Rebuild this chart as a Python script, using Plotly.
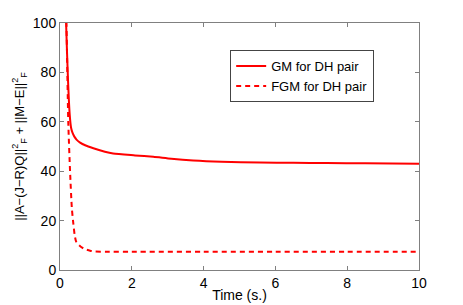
import plotly.graph_objects as go

# GM for DH pair (solid)
gm_t = [0.15, 0.17, 0.22, 0.27, 0.31, 0.35, 0.40, 0.46, 0.56, 0.70, 0.93, 1.25, 1.48, 2.09, 2.6, 3.1, 3.71, 4.5, 5.57, 6.5, 7.43, 8.5, 10.0]
gm_v = [115, 100, 78, 63, 57.5, 55.5, 54.0, 52.8, 51.6, 50.5, 49.3, 47.9, 47.2, 46.4, 45.8, 45.0, 44.3, 43.8, 43.5, 43.4, 43.3, 43.2, 43.0]

# FGM for DH pair (dashed)
fgm_t = [0.15, 0.18, 0.23, 0.28, 0.33, 0.37, 0.41, 0.45, 0.52, 0.60, 0.72, 0.84, 0.97, 1.3, 2.0, 4.0, 6.0, 8.0, 10.0]
fgm_v = [115, 100, 60, 40, 25, 19, 14, 11.5, 10.2, 9.2, 8.3, 7.8, 7.5, 7.4, 7.4, 7.4, 7.4, 7.4, 7.4]

x_ticks = [0, 2, 4, 6, 8, 10]
y_ticks = [0, 20, 40, 60, 80, 100]

fig = go.Figure()
fig.add_trace(go.Scatter(x=gm_t, y=gm_v, mode="lines", name="GM for DH pair",
                         line=dict(color="#ff0000", width=2, shape="spline", smoothing=0.6)))
fig.add_trace(go.Scatter(x=fgm_t, y=fgm_v, mode="lines", name="FGM for DH pair",
                         line=dict(color="#ff0000", width=2, dash="5px,4px", shape="spline", smoothing=0.6)))

axis_common = dict(showgrid=False, zeroline=False, showline=True, linecolor="#808080",
                   linewidth=1, mirror="ticks", ticks="inside", ticklen=4, tickcolor="#808080",
                   tickfont=dict(size=14, color="black"), automargin=False)

# page body has an 8px margin, so the figure is sized to fill the rest of the window
fig.update_layout(
    width=455, height=297,
    margin=dict(l=52, r=44, t=15, b=35, autoexpand=False),
    paper_bgcolor="white", plot_bgcolor="white",
    font=dict(family="Liberation Sans, Arial, sans-serif", color="black"),
    showlegend=True,
    legend=dict(x=0.474, y=0.89, xanchor="left", yanchor="top",
                bgcolor="white", bordercolor="#444444", borderwidth=1,
                font=dict(size=13), tracegroupgap=0, itemwidth=30),
    xaxis=dict(range=[0, 10], tickvals=x_ticks, ticktext=[str(v) for v in x_ticks],
               title=dict(text="Time (s.)", font=dict(size=14), standoff=0), **axis_common),
    yaxis=dict(range=[0, 100], tickvals=y_ticks, ticktext=[str(v) for v in y_ticks],
               title=dict(text="||A\u2212(J\u2212R)Q||<sup>2</sup><sub>F</sub> + ||M\u2212E||<sup>2</sup><sub>F</sub>",
                          font=dict(size=13), standoff=5), **axis_common),
)

fig.write_html("out.html")
